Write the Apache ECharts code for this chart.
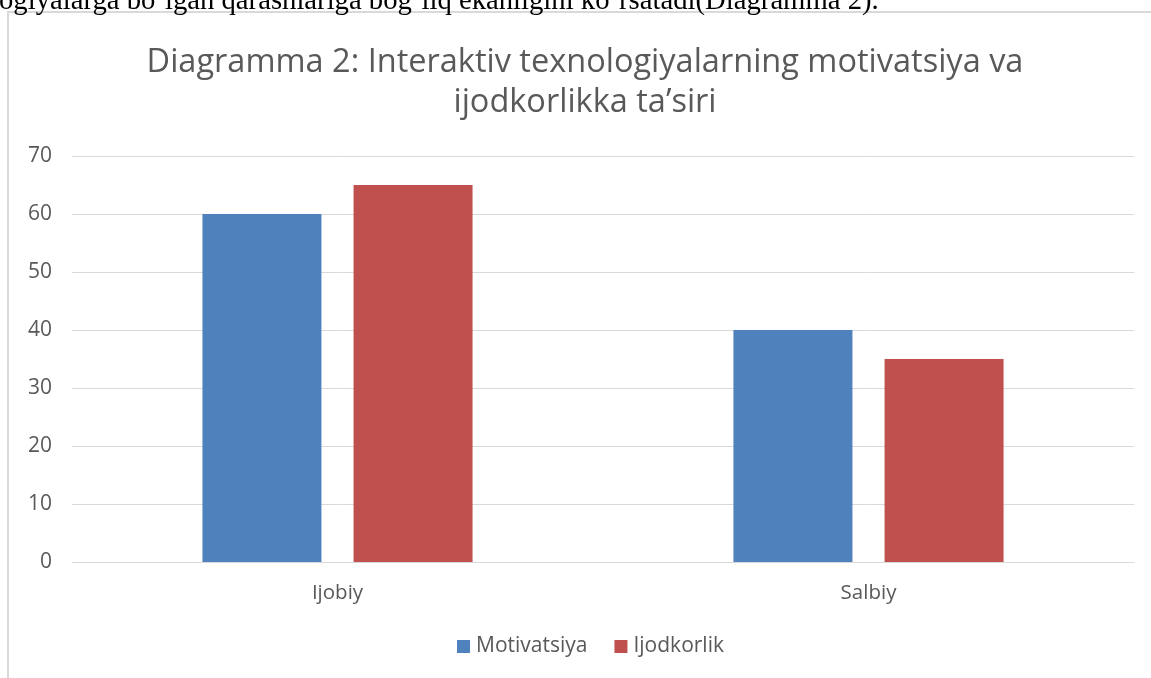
<!DOCTYPE html>
<html><head><meta charset="utf-8">
<script src="https://cdn.jsdelivr.net/npm/echarts@6/dist/echarts.min.js"></script>
<style>html,body{margin:0;padding:0;background:#fff}#c{width:1151px;height:678px}</style>
</head><body><div id="c"></div>
<script>
const categories = ['Ijobiy', 'Salbiy'];
const motivatsiya = [60, 40];
const ijodkorlik = [65, 35];
const seriesNames = ['Motivatsiya', 'Ijodkorlik'];
const titleText = 'Diagramma 2: Interaktiv texnologiyalarning motivatsiya va\nijodkorlikka ta’siri';
const topText = 'ogiyalarga bo`lgan qarashlariga bog`liq ekanligini ko`rsatadi(Diagramma 2).';

const chart = echarts.init(document.getElementById('c'));
const lbl = '#595959';
const ff = 'Open Sans';
chart.setOption({
  animation: false,
  title: {
    text: titleText, left: 580, top: 38, textAlign: 'center',
    textStyle: { fontFamily: ff, fontSize: 32.5, fontWeight: 'normal', color: lbl, lineHeight: 40 }
  },
  legend: {
    data: seriesNames, top: 631, left: 452, itemWidth: 13, itemHeight: 13, itemGap: 27,
    icon: 'rect', textStyle: { fontFamily: ff, fontSize: 21, color: lbl, padding: [0, 0, 0, 1] }
  },
  grid: { left: 72, right: 17, top: 156, bottom: 116 },
  xAxis: {
    type: 'category', data: categories,
    axisLine: { lineStyle: { color: '#d9d9d9' } }, axisTick: { show: false },
    axisLabel: { fontFamily: ff, fontSize: 20.5, color: lbl, margin: 21 }
  },
  yAxis: {
    type: 'value', min: 0, max: 70, interval: 10,
    axisLabel: { fontFamily: ff, fontSize: 21, color: lbl, margin: 20 },
    splitLine: { lineStyle: { color: '#d9d9d9' } }
  },
  series: [
    { name: seriesNames[0], type: 'bar', data: motivatsiya, barWidth: 119, barGap: '27%', itemStyle: { color: '#4f81bd' } },
    { name: seriesNames[1], type: 'bar', data: ijodkorlik, barWidth: 119, itemStyle: { color: '#c0504d' } }
  ],
  graphic: [
    { type: 'rect', shape: { x: 8, y: 12, width: 1200, height: 700 }, style: { fill: 'none', stroke: '#d9d9d9', lineWidth: 2 }, silent: true },
    { type: 'text', left: -1, top: -13, style: { text: topText, fontFamily: 'Liberation Serif', fontSize: 28.7, fill: '#000' } }
  ]
});
</script></body></html>
